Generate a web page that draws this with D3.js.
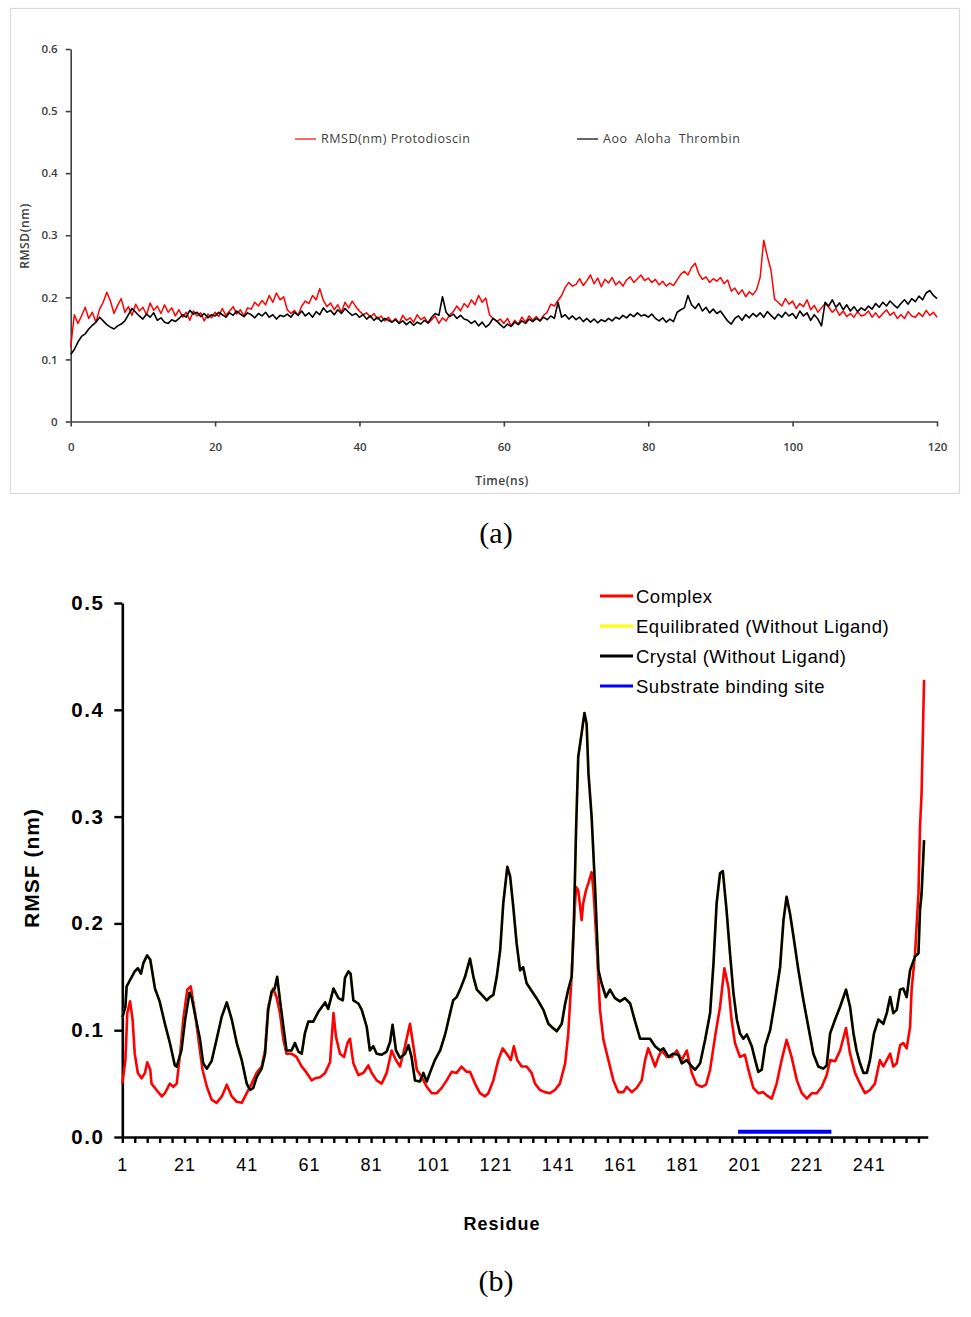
<!DOCTYPE html>
<html>
<head>
<meta charset="utf-8">
<script src="https://cdn.jsdelivr.net/npm/d3@7"></script>
<style>
  html, body { margin: 0; padding: 0; background: #fff; }
  svg { display: block; }
</style>
</head>
<body>
<svg id="chart" width="971" height="1317"></svg>
<script>
// ======== DATA: panel (a) RMSD vs time, one value every 0.5 ns ========
const rmsdTimeStep = 0.5;
const rmsdProtodioscin = [
  0.120, 0.172, 0.158, 0.170, 0.184, 0.166, 0.176, 0.160, 0.181, 0.192,
  0.208, 0.194, 0.174, 0.187, 0.198, 0.176, 0.185, 0.171, 0.189, 0.178,
  0.184, 0.172, 0.191, 0.179, 0.186, 0.174, 0.188, 0.176, 0.183, 0.170,
  0.180, 0.168, 0.176, 0.163, 0.178, 0.170, 0.175, 0.162, 0.173, 0.167,
  0.176, 0.169, 0.182, 0.171, 0.178, 0.185, 0.173, 0.180, 0.170, 0.183,
  0.181, 0.192, 0.186, 0.195, 0.188, 0.203, 0.192, 0.207, 0.196, 0.201,
  0.180, 0.174, 0.179, 0.171, 0.186, 0.194, 0.190, 0.203, 0.196, 0.214,
  0.195, 0.185, 0.191, 0.180, 0.188, 0.176, 0.192, 0.183, 0.194, 0.185,
  0.178, 0.172, 0.175, 0.168, 0.174, 0.165, 0.170, 0.162, 0.168, 0.160,
  0.166, 0.158, 0.171, 0.163, 0.167, 0.160, 0.172, 0.164, 0.168, 0.158,
  0.164, 0.170, 0.158, 0.167, 0.162, 0.172, 0.177, 0.186, 0.178, 0.190,
  0.184, 0.196, 0.188, 0.203, 0.192, 0.199, 0.172, 0.166, 0.161, 0.165,
  0.158, 0.166, 0.154, 0.163, 0.157, 0.168, 0.160, 0.170, 0.163, 0.169,
  0.162, 0.171, 0.176, 0.189, 0.186, 0.195, 0.203, 0.216, 0.224, 0.218,
  0.221, 0.230, 0.219, 0.227, 0.236, 0.222, 0.231, 0.217, 0.229, 0.223,
  0.232, 0.220, 0.226, 0.218, 0.228, 0.233, 0.224, 0.230, 0.236, 0.227,
  0.231, 0.224, 0.229, 0.220, 0.226, 0.218, 0.223, 0.219, 0.228, 0.237,
  0.242, 0.236, 0.248, 0.255, 0.238, 0.229, 0.233, 0.224, 0.230, 0.226,
  0.232, 0.222, 0.228, 0.210, 0.215, 0.205, 0.212, 0.201, 0.209, 0.204,
  0.212, 0.232, 0.292, 0.266, 0.244, 0.197, 0.192, 0.186, 0.198, 0.189,
  0.194, 0.182, 0.190, 0.185, 0.196, 0.180, 0.187, 0.176, 0.183, 0.190,
  0.184, 0.176, 0.182, 0.171, 0.178, 0.169, 0.174, 0.168, 0.177, 0.170,
  0.172, 0.178, 0.168, 0.175, 0.167, 0.174, 0.180, 0.171, 0.176, 0.166,
  0.172, 0.166, 0.177, 0.170, 0.168, 0.175, 0.169, 0.179, 0.171, 0.176,
  0.168
];
const rmsdApoThrombin = [
  0.108, 0.116, 0.128, 0.137, 0.141, 0.149, 0.155, 0.160, 0.168, 0.162,
  0.156, 0.152, 0.149, 0.154, 0.157, 0.162, 0.172, 0.182, 0.176, 0.170,
  0.165, 0.173, 0.168, 0.175, 0.163, 0.167, 0.160, 0.158, 0.164, 0.161,
  0.166, 0.172, 0.168, 0.179, 0.173, 0.176, 0.169, 0.174, 0.167, 0.172,
  0.170, 0.176, 0.172, 0.168, 0.175, 0.171, 0.178, 0.173, 0.169, 0.175,
  0.172, 0.167, 0.174, 0.170, 0.176, 0.168, 0.172, 0.165, 0.171, 0.169,
  0.173, 0.168, 0.176, 0.171, 0.178, 0.170, 0.175, 0.168, 0.177, 0.172,
  0.183, 0.176, 0.179, 0.172, 0.180, 0.174, 0.182, 0.176, 0.171, 0.174,
  0.168, 0.172, 0.165, 0.170, 0.163, 0.168, 0.161, 0.166, 0.163, 0.160,
  0.164, 0.158, 0.162, 0.156, 0.161, 0.155, 0.160, 0.157, 0.163, 0.159,
  0.168, 0.174, 0.171, 0.201, 0.176, 0.169, 0.173, 0.166, 0.171, 0.165,
  0.163, 0.158, 0.162, 0.154, 0.160, 0.152, 0.157, 0.166, 0.162, 0.156,
  0.151, 0.157, 0.153, 0.160, 0.156, 0.162, 0.158, 0.165, 0.161, 0.166,
  0.162, 0.168, 0.164, 0.170, 0.166, 0.192, 0.168, 0.172, 0.165, 0.170,
  0.164, 0.168, 0.161, 0.166, 0.160, 0.165, 0.159, 0.164, 0.161, 0.166,
  0.162, 0.168, 0.165, 0.171, 0.167, 0.173, 0.169, 0.175, 0.170, 0.172,
  0.168, 0.173, 0.166, 0.162, 0.167, 0.160, 0.165, 0.161, 0.176, 0.180,
  0.183, 0.203, 0.188, 0.182, 0.190, 0.178, 0.184, 0.175, 0.181, 0.174,
  0.178, 0.170, 0.162, 0.157, 0.166, 0.170, 0.163, 0.172, 0.167, 0.174,
  0.169, 0.175, 0.168, 0.177, 0.171, 0.165, 0.173, 0.168, 0.176, 0.170,
  0.174, 0.166, 0.178, 0.170, 0.175, 0.163, 0.172, 0.165, 0.154, 0.192,
  0.186, 0.196, 0.184, 0.191, 0.180, 0.188, 0.178, 0.185, 0.177, 0.183,
  0.179, 0.186, 0.181, 0.190, 0.184, 0.192, 0.186, 0.194, 0.188, 0.183,
  0.190, 0.196, 0.189, 0.198, 0.193, 0.202, 0.196, 0.207, 0.211, 0.203,
  0.198
];
const rmsdTicksX = [0, 20, 40, 60, 80, 100, 120];
const rmsdTicksY = [0, 0.1, 0.2, 0.3, 0.4, 0.5, 0.6];
const rmsdLegend = ['RMSD(nm) Protodioscin', 'Aoo  Aloha  Thrombin'];

// ======== DATA: panel (b) RMSF per residue ========
const complexRes = [1,2,2.6,3.5,4.3,5,6,7.2,8.3,9,10,10.4,12,13.7,14.7,16.3,17.4,18.5,19.6,20.6,21.9,23,24.4,25.5,26.8,28.2,29.7,31.3,33,34.6,36.2,37.8,39.4,41,42.6,44.2,45.8,46.9,47.9,49.5,50.6,51.7,52.8,53.8,55.4,57,58.7,60.3,61.9,63,64.6,66.2,67.8,68.9,69.7,71,72.3,73.4,74.2,75.3,76.9,78.5,80.1,81.2,82.8,84.4,86,87.6,89,90.3,91.9,93.5,94.6,95.7,97.3,98.9,100.5,102.1,103.7,105.3,106.9,108.5,110.1,111.7,112.8,114.4,116,117.6,118.7,120.3,121.9,123.3,124.6,125.9,126.9,128,129.4,131,132.6,133.7,135.3,136.9,138.5,140.1,141.7,143.4,144.4,145.5,146.2,146.9,147.6,148.2,148.7,149.2,150.1,150.9,151.9,152.5,153.5,154.6,155.7,157.3,158.9,160.5,162.1,163.2,164.8,166.4,168,169.1,170.1,171.2,172.3,173.4,174.4,176.1,177.7,179.3,180.9,182.5,184.1,185.7,187.3,188.7,190,191.6,193.2,194.6,195.9,196.9,198,199.6,201.2,202.3,203.9,205.5,207.1,208.2,209.8,211.4,213,214.6,216.2,217.9,219.5,221.1,222.7,224.3,225.9,227.5,228.6,230.2,231.8,233.7,235,236.6,238.2,239.8,241.4,243,244.6,245.7,246.8,247.9,248.9,250,251.1,252.1,253.2,254.3,254.8,255.9,257,257.5,258,258.8];
const complexVal = [0.050,0.072,0.116,0.127,0.110,0.078,0.060,0.055,0.060,0.070,0.063,0.050,0.044,0.038,0.041,0.050,0.047,0.050,0.078,0.110,0.138,0.141,0.116,0.091,0.063,0.047,0.035,0.032,0.038,0.049,0.038,0.033,0.032,0.041,0.050,0.060,0.066,0.081,0.122,0.139,0.131,0.116,0.091,0.078,0.078,0.075,0.066,0.060,0.053,0.055,0.056,0.060,0.070,0.116,0.094,0.078,0.075,0.088,0.092,0.069,0.058,0.060,0.067,0.060,0.053,0.050,0.060,0.081,0.072,0.066,0.085,0.106,0.085,0.063,0.056,0.047,0.041,0.041,0.046,0.053,0.061,0.060,0.066,0.061,0.061,0.050,0.041,0.038,0.041,0.053,0.072,0.083,0.078,0.072,0.085,0.072,0.066,0.066,0.060,0.050,0.044,0.042,0.041,0.044,0.050,0.069,0.097,0.153,0.200,0.234,0.231,0.216,0.203,0.219,0.231,0.238,0.248,0.231,0.181,0.119,0.091,0.072,0.053,0.042,0.042,0.047,0.042,0.046,0.053,0.072,0.083,0.075,0.066,0.075,0.081,0.075,0.075,0.081,0.072,0.081,0.060,0.049,0.047,0.049,0.063,0.094,0.122,0.158,0.140,0.110,0.088,0.075,0.077,0.063,0.046,0.041,0.042,0.039,0.036,0.050,0.072,0.091,0.075,0.053,0.041,0.036,0.041,0.041,0.047,0.058,0.072,0.071,0.081,0.102,0.078,0.060,0.050,0.041,0.044,0.050,0.072,0.066,0.072,0.078,0.066,0.069,0.086,0.088,0.083,0.103,0.138,0.172,0.228,0.291,0.322,0.428];
const crystalRes = [1,2,2.4,3.5,5,6,7,7.8,9,10,11.5,13,14.7,16.3,17.9,18.5,20,21.2,22.6,23.3,24.7,26,27,28.2,29.7,31.3,33,34.6,36.2,37.8,39.4,41,42.1,43.1,44.2,45.8,46.9,47.9,49,50,50.8,51.7,52.8,53.8,55.4,56.5,57.6,58.7,59.7,60.8,62.4,64,66.2,67.2,68.9,70.5,71.9,72.6,73.7,74.4,75.3,76.9,78,79.6,80.6,81.7,82.8,84.4,86,87.1,87.9,89,90.3,91.9,93,94,95.1,96.7,97.8,98.9,99.9,101.5,103.2,104.8,106.4,107.4,108.5,109.6,111.2,112.8,113.9,115,116.6,118.2,119.2,120.3,121.4,122.5,123.5,124.8,125.7,126.7,127.8,128.9,129.9,131,132.6,134.2,136.4,138,139.1,140.7,142.3,143.4,144.4,145.5,146.2,146.9,147.6,148.7,149.6,150.3,150.9,151.9,153,154.1,155.1,156.5,157.8,159.4,161,162.6,164.3,165.9,167.5,169.1,170.7,172.3,173.9,175,176.6,178.2,179.8,180.9,182.5,184.1,185.2,186.8,188.4,190,191.1,192.1,193.2,194.1,195.3,196.4,197.5,198.6,199.6,200.7,201.8,203.4,204.5,205.5,206.6,207.7,209.3,210.9,212.5,213.6,214.6,215.7,216.8,218.4,220,221.6,223.2,224.8,226.4,227.5,228.6,230.2,231.8,233.7,235,236.1,237.1,238.2,239.3,240.4,241.4,242.7,244.1,245.7,246.8,247.9,248.9,250,251.1,252.1,253.2,254.3,255.9,257,257.5,258,258.8];
const crystalVal = [0.112,0.122,0.141,0.147,0.155,0.158,0.153,0.163,0.170,0.166,0.139,0.127,0.106,0.088,0.067,0.066,0.081,0.110,0.135,0.131,0.110,0.091,0.069,0.064,0.071,0.091,0.113,0.126,0.110,0.088,0.072,0.050,0.044,0.046,0.056,0.064,0.078,0.119,0.136,0.139,0.150,0.128,0.103,0.081,0.081,0.088,0.080,0.078,0.097,0.108,0.108,0.117,0.126,0.120,0.139,0.130,0.128,0.149,0.155,0.153,0.128,0.125,0.119,0.103,0.081,0.085,0.078,0.077,0.080,0.089,0.105,0.081,0.074,0.078,0.086,0.075,0.053,0.052,0.060,0.052,0.060,0.072,0.081,0.096,0.116,0.128,0.131,0.138,0.150,0.167,0.150,0.138,0.133,0.128,0.131,0.133,0.150,0.175,0.219,0.253,0.244,0.216,0.181,0.156,0.159,0.144,0.137,0.130,0.119,0.106,0.103,0.099,0.106,0.125,0.138,0.150,0.200,0.287,0.356,0.378,0.397,0.387,0.340,0.300,0.234,0.156,0.144,0.131,0.138,0.130,0.127,0.130,0.125,0.108,0.092,0.092,0.092,0.085,0.081,0.083,0.075,0.078,0.077,0.069,0.072,0.066,0.063,0.069,0.091,0.116,0.163,0.219,0.247,0.249,0.212,0.172,0.135,0.110,0.097,0.092,0.096,0.085,0.072,0.061,0.063,0.085,0.100,0.128,0.159,0.203,0.225,0.209,0.188,0.156,0.128,0.103,0.078,0.066,0.064,0.067,0.097,0.110,0.122,0.138,0.122,0.097,0.081,0.069,0.060,0.060,0.072,0.097,0.110,0.106,0.116,0.131,0.116,0.119,0.138,0.139,0.131,0.156,0.169,0.172,0.213,0.228,0.278];
// equilibrated run overlaps the crystal trace in the picture
const equilibratedRes = crystalRes;
const equilibratedVal = crystalVal;
const bindingSite = [199, 229];
const rmsfTicksY = [0, 0.1, 0.2, 0.3, 0.4, 0.5];
const rmsfLabelTicks = [1, 21, 41, 61, 81, 101, 121, 141, 161, 181, 201, 221, 241];
const rmsfLegend = ['Complex', 'Equilibrated (Without Ligand)', 'Crystal (Without Ligand)', 'Substrate binding site'];
const rmsfColors = ['#ff0000', '#ffff00', '#000000', '#0000ff'];

const svg = d3.select('#chart');

// ================= PANEL (a) =================
const gA = svg.append('g');
gA.append('rect')
  .attr('x', 10.5).attr('y', 8.5).attr('width', 949).attr('height', 485)
  .attr('fill', '#fff').attr('stroke', '#d9d9d9').attr('stroke-width', 1.2);

const xA = d3.scaleLinear().domain([0, 120]).range([70.7, 937]);
const yA = d3.scaleLinear().domain([0, 0.6]).range([421.5, 49]);
const fontA = '"Open Sans", "DejaVu Sans", sans-serif';

const axA_y = gA.append('g')
  .attr('transform', `translate(${xA(0)},0)`)
  .call(d3.axisLeft(yA).tickValues(rmsdTicksY).tickSize(5).tickSizeOuter(0).tickPadding(8)
    .tickFormat(d => d === 0 ? '0' : d3.format('.1f')(d)));
const axA_x = gA.append('g')
  .attr('transform', `translate(0,${yA(0)})`)
  .call(d3.axisBottom(xA).tickValues(rmsdTicksX).tickSize(5).tickSizeOuter(0).tickPadding(16));
[axA_y, axA_x].forEach(a => {
  a.selectAll('path.domain').attr('stroke', '#404040').attr('stroke-width', 1.6);
  a.selectAll('.tick line').attr('stroke', '#404040').attr('stroke-width', 1.6);
  a.selectAll('.tick text').attr('font-family', fontA).attr('font-size', 11.5)
    .attr('font-weight', 600).attr('fill', '#404040');
});

const lineA = d3.line()
  .x((d, i) => xA(i * rmsdTimeStep))
  .y(d => yA(d));
gA.append('path').datum(rmsdProtodioscin)
  .attr('fill', 'none').attr('stroke', '#ff0000').attr('stroke-width', 1.5)
  .attr('stroke-linejoin', 'round').attr('d', lineA);
gA.append('path').datum(rmsdApoThrombin)
  .attr('fill', 'none').attr('stroke', '#000').attr('stroke-width', 1.6)
  .attr('stroke-linejoin', 'round').attr('d', lineA);

// legend (a)
const legA = [{ x: 295, c: '#ff0000' }, { x: 577, c: '#000' }];
legA.forEach((l, i) => {
  gA.append('line').attr('x1', l.x).attr('x2', l.x + 21).attr('y1', 139).attr('y2', 139)
    .attr('stroke', l.c).attr('stroke-width', 1.2);
  gA.append('text').attr('x', l.x + 26).attr('y', 143)
    .attr('font-family', fontA).attr('font-size', 12.5).attr('letter-spacing', 0.55)
    .attr('fill', '#404040').style('white-space', 'pre')
    .text(rmsdLegend[i]);
});

gA.append('text')
  .attr('transform', 'translate(29,236) rotate(-90)')
  .attr('text-anchor', 'middle')
  .attr('font-family', fontA).attr('font-size', 12).attr('letter-spacing', 0.6)
  .attr('font-weight', 600).attr('fill', '#404040')
  .text('RMSD(nm)');
gA.append('text')
  .attr('x', 502).attr('y', 485).attr('text-anchor', 'middle')
  .attr('font-family', fontA).attr('font-size', 12).attr('letter-spacing', 0.5)
  .attr('font-weight', 600).attr('fill', '#404040')
  .text('Time(ns)');

// captions
const capFont = '"Liberation Serif", "DejaVu Serif", serif';
svg.append('text').attr('x', 496).attr('y', 543).attr('text-anchor', 'middle')
  .attr('font-family', capFont).attr('font-size', 30).text('(a)');
svg.append('text').attr('x', 496).attr('y', 1291).attr('text-anchor', 'middle')
  .attr('font-family', capFont).attr('font-size', 30).text('(b)');

// ================= PANEL (b) =================
const gB = svg.append('g');
const xB = d3.scaleLinear().domain([1, 260]).range([122.3, 927.8]);
const yB = d3.scaleLinear().domain([0, 0.5]).range([1137, 603]);
const fontB = '"Liberation Sans", Arial, sans-serif';

const axB_y = gB.append('g')
  .attr('transform', `translate(${xB(1)},0)`)
  .call(d3.axisLeft(yB).tickValues(rmsfTicksY).tickSize(8).tickSizeOuter(0).tickPadding(10)
    .tickFormat(d3.format('.1f')));
axB_y.selectAll('.tick text').attr('font-size', 20.5).attr('font-weight', 'bold').attr('letter-spacing', 1.5);

const axB_x = gB.append('g')
  .attr('transform', `translate(0,${yB(0)})`)
  .call(d3.axisBottom(xB).tickValues(d3.range(1, 258, 4)).tickSize(6).tickSizeOuter(0).tickPadding(15)
    .tickFormat(d => rmsfLabelTicks.includes(d) ? d : ''));
axB_x.selectAll('.tick text').attr('font-size', 18).attr('letter-spacing', 1);

[axB_y, axB_x].forEach(a => {
  a.selectAll('path.domain').attr('stroke', '#000').attr('stroke-width', 2.6);
  a.selectAll('.tick line').attr('stroke', '#000').attr('stroke-width', 2.4);
  a.selectAll('.tick text').attr('font-family', fontB).attr('fill', '#000');
});

function rmsfLine(res, val) {
  return d3.line().x((d, i) => xB(res[i])).y(d => yB(d))(val);
}
gB.append('path').attr('d', rmsfLine(complexRes, complexVal))
  .attr('fill', 'none').attr('stroke', rmsfColors[0]).attr('stroke-width', 2.6).attr('stroke-linejoin', 'round');
gB.append('path').attr('d', rmsfLine(equilibratedRes, equilibratedVal))
  .attr('fill', 'none').attr('stroke', rmsfColors[1]).attr('stroke-width', 2.6).attr('stroke-linejoin', 'round');
gB.append('path').attr('d', rmsfLine(crystalRes, crystalVal))
  .attr('fill', 'none').attr('stroke', rmsfColors[2]).attr('stroke-width', 2.6).attr('stroke-linejoin', 'round');

gB.append('line')
  .attr('x1', xB(bindingSite[0])).attr('x2', xB(bindingSite[1]))
  .attr('y1', yB(0.005)).attr('y2', yB(0.005))
  .attr('stroke', rmsfColors[3]).attr('stroke-width', 4);

// legend (b)
rmsfLegend.forEach((t, i) => {
  const y = 596 + i * 30;
  gB.append('line').attr('x1', 600).attr('x2', 633).attr('y1', y).attr('y2', y)
    .attr('stroke', rmsfColors[i]).attr('stroke-width', 3);
  gB.append('text').attr('x', 636).attr('y', y + 6.5)
    .attr('font-family', fontB).attr('font-size', 18.5).attr('letter-spacing', 0.5)
    .attr('fill', '#000').text(t);
});

gB.append('text')
  .attr('transform', 'translate(39,868) rotate(-90)')
  .attr('text-anchor', 'middle')
  .attr('font-family', fontB).attr('font-size', 21).attr('font-weight', 'bold').attr('letter-spacing', 1)
  .text('RMSF (nm)');
gB.append('text')
  .attr('x', 502).attr('y', 1230).attr('text-anchor', 'middle')
  .attr('font-family', fontB).attr('font-size', 18).attr('font-weight', 'bold').attr('letter-spacing', 1)
  .text('Residue');
</script>
</body>
</html>
